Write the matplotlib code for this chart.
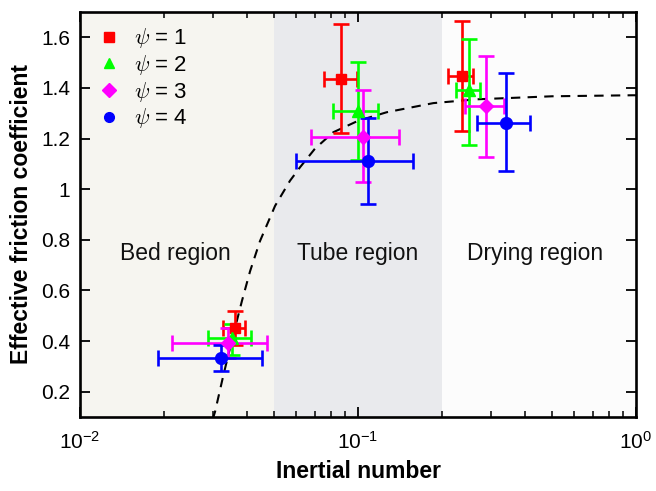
import matplotlib
matplotlib.use("Agg")
import matplotlib.pyplot as plt
import numpy as np

plt.rcParams['font.family'] = ['Liberation Sans', 'DejaVu Sans']
plt.rcParams['mathtext.fontset'] = 'cm'

# ---- data ----
labels = [r"$\psi$ = 1", r"$\psi$ = 2", r"$\psi$ = 3", r"$\psi$ = 4"]
colors = ["#ff0000", "#00ff00", "#ff00ff", "#0000ff"]
markers = ["s", "^", "D", "o"]

# each series: bed, tube, drying groups
x_vals = [[0.0361, 0.0867, 0.236],
          [0.0351, 0.0997, 0.251],
          [0.0342, 0.104, 0.289],
          [0.0321, 0.109, 0.341]]
x_low = [[0.0328, 0.0755, 0.210],
         [0.0289, 0.0815, 0.225],
         [0.0214, 0.0676, 0.243],
         [0.0190, 0.0597, 0.267]]
x_high = [[0.0392, 0.0989, 0.259],
          [0.0411, 0.118, 0.275],
          [0.0469, 0.1405, 0.335],
          [0.0452, 0.158, 0.416]]
y_vals = [[0.451, 1.437, 1.447],
          [0.412, 1.308, 1.390],
          [0.392, 1.208, 1.327],
          [0.335, 1.110, 1.263]]
y_low = [[0.385, 1.221, 1.229],
         [0.346, 1.115, 1.176],
         [0.332, 1.027, 1.126],
         [0.283, 0.943, 1.073]]
y_high = [[0.517, 1.652, 1.664],
          [0.469, 1.503, 1.593],
          [0.451, 1.390, 1.527],
          [0.385, 1.281, 1.457]]

# fitted curve
curve_I = [0.0300, 0.0306, 0.0328, 0.0356, 0.0382, 0.0409, 0.0444, 0.0503,
           0.0569, 0.0618, 0.0700, 0.0815, 0.100, 0.1269, 0.1866, 0.2673,
           0.500, 0.973, 1.0]
curve_mu = [0.09, 0.121, 0.266, 0.425, 0.557, 0.676, 0.795, 0.934,
            1.033, 1.086, 1.160, 1.225, 1.270, 1.304, 1.340, 1.355,
            1.367, 1.371, 1.371]

region_edges = [0.01, 0.05, 0.2, 1.0]
region_colors = ["#f6f5f0", "#e9eaed", "#fcfcfc"]
region_names = ["Bed region", "Tube region", "Drying region"]
region_label_x = [0.022, 0.1, 0.433]

fig = plt.figure(figsize=(6.56, 4.91), dpi=100)
ax = fig.add_axes([0.122, 0.1507, 0.8475, 0.8249])
ax.set_xscale('log')
ax.set_xlim(0.01, 1.0)
ax.set_ylim(0.1, 1.7)

for i in range(3):
    ax.axvspan(region_edges[i], region_edges[i + 1], color=region_colors[i], zorder=0, lw=0)
    ax.text(region_label_x[i], 0.745, region_names[i], ha='center', va='center',
            fontsize=16.5, color='#111111', zorder=1)

ax.plot(curve_I, curve_mu, color='k', linestyle='--', lw=1.5, dashes=(4.5, 3.5), zorder=2)

for k in range(4):
    xv = np.array(x_vals[k]); yv = np.array(y_vals[k])
    xerr = [xv - np.array(x_low[k]), np.array(x_high[k]) - xv]
    yerr = [yv - np.array(y_low[k]), np.array(y_high[k]) - yv]
    ax.errorbar(xv, yv, xerr=xerr, yerr=yerr, fmt='none', ecolor=colors[k],
                elinewidth=1.9, capsize=6, capthick=1.9, zorder=3)
    ms = 7.5 if markers[k] in ('s', 'D') else 8.5
    ax.plot(xv, yv, linestyle='none', marker=markers[k], color=colors[k],
            markersize=ms, zorder=4, label=labels[k])

leg = ax.legend(loc='upper left', frameon=False, fontsize=16, handlelength=1.3,
                handletextpad=0.5, labelspacing=0.12, borderaxespad=0.25,
                bbox_to_anchor=(0.0, 1.0))
for h in leg.legend_handles:
    h.set_markersize(7)

ax.set_yticks([0.2, 0.4, 0.6, 0.8, 1.0, 1.2, 1.4, 1.6])
ax.set_yticklabels(['0.2', '0.4', '0.6', '0.8', '1', '1.2', '1.4', '1.6'])
ax.set_xticks([0.01, 0.1, 1.0])
ax.set_xticklabels([r'$\mathregular{10^{-2}}$', r'$\mathregular{10^{-1}}$',
                    r'$\mathregular{10^{0}}$'])
ax.tick_params(which='both', direction='in', top=True, right=True, labelsize=15)
ax.tick_params(which='major', length=7, width=1.3, pad=7)
ax.tick_params(axis='x', which='major', pad=10)
ax.tick_params(which='minor', length=4.5, width=1.1)
for s in ax.spines.values():
    s.set_linewidth(1.9)

ax.set_xlabel('Inertial number', fontsize=16.5, fontweight='bold', labelpad=5)
ax.set_ylabel('Effective friction coefficient', fontsize=16.5, fontweight='bold', labelpad=6)

fig.savefig('out.png', dpi=100, facecolor='white')
